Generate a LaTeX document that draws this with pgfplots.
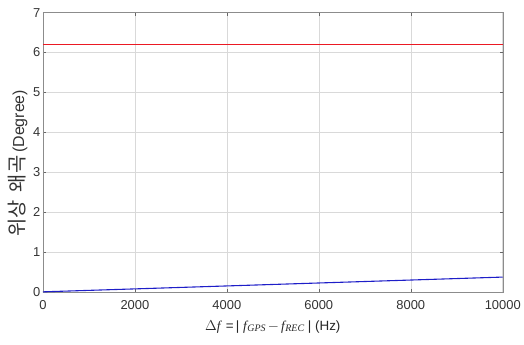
\documentclass[border=0pt]{standalone}
\usepackage{pgfplots}
\pgfplotsset{compat=1.18}
\usepackage{fontspec}
\setmainfont{Liberation Sans}
\newfontfamily\kr{Noto Sans CJK KR}
\newfontfamily\tms{Liberation Serif}
\definecolor{lred}{RGB}{235,25,35}
\definecolor{lblue}{RGB}{30,30,200}
\begin{document}
\begin{tikzpicture}
\begin{axis}[
  scale only axis,
  width=461bp, height=280bp,
  xmin=0, xmax=10000, ymin=0, ymax=7,
  xtick={0,2000,4000,6000,8000,10000},
  ytick={0,1,2,3,4,5,6,7},
  scaled x ticks=false,
  xticklabel style={/pgf/number format/1000 sep={}, yshift=-5pt},
  yticklabel style={xshift=1pt},
  /pgf/number format/assume math mode=true,
  tick label style={font=\fontsize{13}{15}\selectfont, text=black!80},
  tick align=inside,
  tick style={black!60},
  major tick length=3pt,
  grid=major,
  grid style={black!15, line width=0.5pt},
  axis line style={black!45},
  xlabel={{\tms\itshape $\Delta$f\/} =\,| {\tms\itshape f\kern0.5pt\raisebox{-0.3ex}{\fontsize{10}{11}\selectfont GPS}}\,$-$\,{\tms\itshape f\kern0.5pt\raisebox{-0.3ex}{\fontsize{10}{11}\selectfont REC}} | (Hz)},
  ylabel={{\kr\fontsize{20}{22}\selectfont 위상\hspace{8pt}왜곡}\hspace{3pt}(Degree)},
  xlabel style={font=\fontsize{13.5}{15}\selectfont, text=black!85, yshift=-4pt},
  ylabel style={font=\fontsize{16}{18}\selectfont, text=black!80, yshift=-1pt, at={(ticklabel cs:0.46)}},
  clip=false,
]
\addplot[color=lred, line width=1.1pt] coordinates {(0,6.19) (10000,6.19)};
\addplot[color=lblue, line width=1.1pt] coordinates {(0,0) (2000,0.074) (4000,0.148) (6000,0.222) (8000,0.296) (10000,0.37)};
\path (axis description cs:-0.0933,-0.19) rectangle (axis description cs:1.0434,1.045);
\end{axis}
\end{tikzpicture}
\end{document}
